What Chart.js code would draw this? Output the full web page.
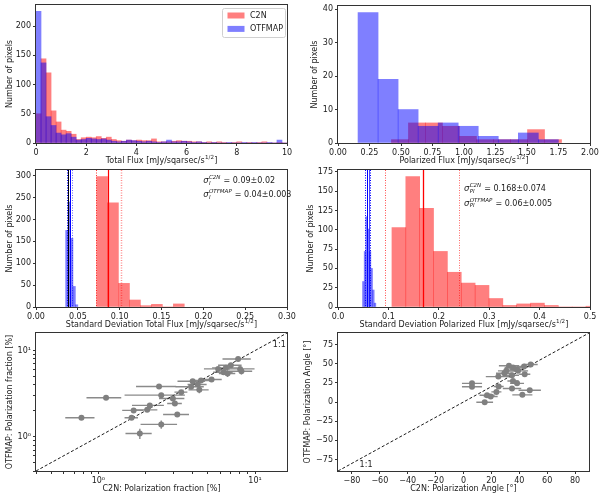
<!DOCTYPE html>
<html>
<head>
<meta charset="utf-8">
<title>C2N vs OTFMAP</title>
<script src="https://cdn.jsdelivr.net/npm/chart.js@4.4.1/dist/chart.umd.min.js"></script>
<style>
  body { margin: 0; background: #fff; }
  #wrap { position: relative; width: 604px; height: 501px; overflow: hidden; }
  #wrap canvas { position: absolute; }
</style>
</head>
<body>
<div id="wrap">
  <canvas id="c-flux" width="300" height="168" style="left:0;top:0"></canvas>
  <canvas id="c-pol" width="304" height="168" style="left:300px;top:0"></canvas>
  <canvas id="c-sd" width="300" height="165" style="left:0;top:165px"></canvas>
  <canvas id="c-psd" width="304" height="165" style="left:300px;top:165px"></canvas>
  <canvas id="c-frac" width="300" height="176" style="left:0;top:325px"></canvas>
  <canvas id="c-ang" width="304" height="176" style="left:300px;top:325px"></canvas>
</div>
<script>
// 总流量直方图 (bin 中心)
const fluxBins = [0.1, 0.3, 0.5, 0.7, 0.9, 1.1, 1.3, 1.5, 1.7, 1.9,
  2.1, 2.3, 2.5, 2.7, 2.9, 3.1, 3.3, 3.5, 3.7, 3.9,
  4.1, 4.3, 4.5, 4.7, 4.9, 5.1, 5.3, 5.5, 5.7, 5.9,
  6.1, 6.3, 6.5, 6.7, 6.9, 7.1, 7.3, 7.5, 7.7, 7.9,
  8.1, 8.3, 8.5, 8.7, 8.9, 9.1, 9.3, 9.5, 9.7, 9.9];
const c2nFluxCounts = [50, 144, 120, 55, 36, 22, 20, 15, 6, 9,
  10, 9, 11, 8, 10, 6, 4, 3, 5, 4,
  5, 4, 4, 7, 2, 2, 2, 3, 4, 3,
  3, 2, 2, 1, 2, 1, 2, 1, 0, 1,
  2, 0, 1, 0, 1, 2, 0, 0, 1, 0];
const otfFluxCounts = [225, 137, 45, 30, 17, 14, 16, 10, 5, 6,
  8, 7, 6, 7, 5, 3, 2, 3, 5, 4,
  3, 2, 3, 2, 1, 2, 5, 2, 2, 3,
  2, 1, 2, 1, 0, 1, 0, 0, 1, 0,
  0, 1, 0, 1, 0, 0, 1, 0, 5, 0];

// 偏振流量直方图
const c2nPolBins = [0.4915, 0.6265, 0.7615, 0.8965, 1.0315, 1.1665, 1.3015, 1.4365, 1.5715, 1.7065];
const c2nPolCounts = [1, 6, 6, 5, 2, 1, 1, 1, 4, 1];
const otfPolBins = [0.2385, 0.3975, 0.5565, 0.7155, 0.8745, 1.0335, 1.1925, 1.3515, 1.5105, 1.6695];
const otfPolCounts = [39, 19, 10, 5, 6, 5, 2, 1, 3, 1];

// 总流量标准差
const c2nSdBins = [0.079, 0.092, 0.1052, 0.1183, 0.1314, 0.1445, 0.1576, 0.1707];
const c2nSdCounts = [298, 238, 54, 16, 3, 6, 0, 7];
const otfSdBins = [0.0369, 0.0398, 0.0427, 0.0456, 0.0485];
const otfSdCounts = [175, 240, 157, 47, 5];
const c2nSdLines = [0.0716, 0.0864, 0.1015];      // 下限, 均值, 上限
const otfSdLines = [0.0368, 0.0405, 0.0428];
const otfSdMedian = 0.0385;

// 偏振流量标准差
const c2nPsdBins = [0.1208, 0.1483, 0.1758, 0.2033, 0.2308, 0.2583, 0.2858, 0.3133,
  0.3408, 0.3683, 0.3958, 0.4233, 0.4508, 0.4783, 0.5058];
const c2nPsdCounts = [103, 169, 128, 72, 45, 31, 28, 11, 2, 4, 5, 2, 0, 0, 1];
const otfPsdBins = [0.0503, 0.0536, 0.0569, 0.0602, 0.0635, 0.0668, 0.0701, 0.0734];
const otfPsdCounts = [33, 72, 117, 101, 72, 50, 22, 5];
const c2nPsdLines = [0.093, 0.168, 0.241];
const otfPsdLines = [0.0532, 0.0578, 0.0632];
const otfPsdMedian = 0.0606;

// 偏振度散点
const c2nFrac = [0.78, 1.12, 1.84, 2.52, 1.63, 1.68, 2.05, 2.13, 2.44, 2.52, 2.99, 3.08, 3.19, 3.38,
  3.91, 4.0, 4.31, 4.41, 4.52, 5.28, 5.82, 6.3, 6.52, 6.68, 7.01, 7.8, 8.03, 8.19];
const otfFrac = [1.66, 2.83, 1.09, 1.39, 1.66, 2.02, 2.05, 2.31, 3.83, 3.04, 2.78, 2.43, 1.81, 3.29,
  3.8, 4.41, 4.04, 3.5, 4.5, 4.61, 6.13, 5.61, 6.3, 5.42, 6.76, 8.0, 6.13, 5.76];
const c2nFracErr = [0.165, 0.28, 0.35, 0.66, 0.16, 0.26, 0.33, 0.49, 0.7, 1.05, 0.55, 0.33, 0.6, 0.32,
  0.8, 0.8, 0.6, 0.65, 0.66, 0.85, 1.1, 0.9, 1.2, 0.8, 1.2, 1.6, 1.9, 1.4];
const otfFracErr = [0.06, 0.1, 0.15, 0.15, 0.08, 0.08, 0.08, 0.1, 0.2, 0.15, 0.15, 0.12, 0.1, 0.15,
  0.2, 0.2, 0.2, 0.3, 0.2, 0.2, 0.3, 0.3, 0.3, 0.5, 0.3, 0.4, 0.3, 0.5];
const oneToOneFrac = [0.4, 16];
const logTicks = [0.4, 0.5, 0.6, 0.7, 0.8, 0.9, 1, 2, 3, 4, 5, 6, 7, 8, 9, 10];

// 偏振角散点
const c2nAng = [6.1, 6.1, 15.2, 16.9, 19.5, 23.6, 25.2, 25, 29.3, 32.6, 35.5, 34.8, 35.5, 34.8,
  38.4, 39.1, 42.2, 43.4, 43.9, 47.5, 48.2, 30.7, 37.9];
const otfAng = [24.3, 19.9, -0.4, 8.8, 7.1, 13.2, 20.3, 33.1, 37.5, 47.2, 45, 34.8, 27.3, 17.6,
  24.3, 40.6, 9.3, 46.3, 36.2, 15.4, 49, 40.6, 42.8];
const c2nAngErr = [7.2, 7.2, 6, 5.4, 5, 3.6, 3.6, 9, 6, 7.2, 6, 5, 4, 6.6, 5, 7.2, 7.2, 5, 4, 8, 5, 6, 5];
const otfAngErr = [3, 3, 2.5, 2, 2, 2.5, 2.5, 2, 2, 3, 2, 2, 2, 2, 2.5, 2, 2, 2, 3, 3, 2, 2, 2];
const oneToOneAng = [-90, 90];
const angTicksX = [-80, -60, -40, -20, 0, 20, 40, 60, 80];
const angTicksY = [-75, -50, -25, 0, 25, 50, 75];

const FONT = "'DejaVu Sans', 'Liberation Sans', sans-serif";
const TEXT = '#1a1a1a';
const AXIS = '#333';
const RED = 'rgba(255, 0, 0, 0.5)';
const BLUE = 'rgba(0, 0, 255, 0.5)';
const GREY = '#808080';

Chart.defaults.font.family = FONT;
Chart.defaults.font.size = 8;
Chart.defaults.color = TEXT;

// 固定坐标轴尺寸, 让绘图区位置可控
const fixY = w => s => { s.width = w; s.paddingTop = 0; s.paddingBottom = 0; };
const fixX = h => s => { s.height = h; s.paddingLeft = 0; s.paddingRight = 0; };
const minus = v => String(v).replace('-', '\u2212');
const setTicks = vals => s => { s.ticks = vals.map(v => ({ value: v })); };

function linAxis(min, max, step, fmt, afterFit) {
    return {
        type: 'linear', min, max, offset: false, afterFit,
        grid: { drawOnChartArea: false, drawTicks: true, tickLength: 3, color: AXIS, offset: false },
        border: { display: false },
        ticks: { stepSize: step, includeBounds: false, autoSkip: false, maxRotation: 0, padding: 2, color: TEXT, callback: fmt }
    };
}

function logAxis(afterFit) {
    return {
        type: 'logarithmic', min: 0.4, max: 16, afterFit,
        afterBuildTicks: setTicks(logTicks),
        grid: { drawOnChartArea: false, drawTicks: true, tickLength: 3, color: AXIS },
        border: { display: false },
        ticks: {
            autoSkip: false, maxRotation: 0, padding: 2, color: TEXT,
            callback: v => (v === 1 ? '10\u2070' : v === 10 ? '10\u00b9' : '')
        }
    };
}

const yTitle = (text, pad) => ({ display: true, text, color: TEXT, padding: { top: pad, bottom: 0 } });

// 外框
const framePlugin = {
    id: 'frame',
    afterDraw(chart) {
        const { ctx, chartArea: a } = chart;
        ctx.save();
        ctx.strokeStyle = AXIS;
        ctx.lineWidth = 1;
        ctx.strokeRect(Math.round(a.left) - 0.5, Math.round(a.top) - 0.5,
            Math.round(a.right - a.left) + 1, Math.round(a.bottom - a.top) + 1);
        ctx.restore();
    }
};

// x 轴标题, 带上标
function xTitle(main, sup, tail) {
    return {
        id: 'xTitle',
        afterDraw(chart) {
            const { ctx, chartArea: a } = chart;
            ctx.save();
            ctx.fillStyle = TEXT;
            ctx.textBaseline = 'middle';
            ctx.textAlign = 'left';
            ctx.font = `8px ${FONT}`;
            const w1 = ctx.measureText(main).width;
            const w3 = ctx.measureText(tail || '').width;
            ctx.font = `5.6px ${FONT}`;
            const w2 = sup ? ctx.measureText(sup).width + 0.5 : 0;
            let x = (a.left + a.right) / 2 - (w1 + w2 + w3) / 2;
            const y = a.bottom + 18;
            ctx.font = `8px ${FONT}`;
            ctx.fillText(main, x, y);
            x += w1;
            if (sup) {
                ctx.font = `5.6px ${FONT}`;
                ctx.fillText(sup, x + 0.3, y - 3.5);
                x += w2;
            }
            ctx.font = `8px ${FONT}`;
            if (tail) ctx.fillText(tail, x, y);
            ctx.restore();
        }
    };
}

// 竖线: 均值和误差范围
function vLines(lines) {
    return {
        id: 'vLines',
        afterDatasetsDraw(chart) {
            const { ctx, chartArea: a, scales: { x } } = chart;
            ctx.save();
            lines.forEach(l => {
                const px = Math.round(x.getPixelForValue(l.value)) + 0.5;
                ctx.strokeStyle = l.color;
                ctx.lineWidth = l.width || 1;
                ctx.setLineDash(l.dash || []);
                ctx.beginPath();
                ctx.moveTo(px, a.top);
                ctx.lineTo(px, a.bottom);
                ctx.stroke();
            });
            ctx.restore();
        }
    };
}

// σ 注释
function sigmaText(items) {
    return {
        id: 'sigmaText',
        afterDraw(chart) {
            const { ctx, scales: { x, y } } = chart;
            ctx.save();
            ctx.fillStyle = TEXT;
            ctx.textBaseline = 'alphabetic';
            ctx.textAlign = 'left';
            items.forEach(it => {
                let px = x.getPixelForValue(it.x);
                const py = y.getPixelForValue(it.y);
                ctx.font = `italic 8.5px ${FONT}`;
                ctx.fillText('\u03c3', px, py);
                px += ctx.measureText('\u03c3').width + 0.3;
                ctx.font = `italic 5.5px ${FONT}`;
                ctx.fillText(it.sup, px, py - 4);
                ctx.fillText(it.sub, px, py + 1.5);
                px += Math.max(ctx.measureText(it.sup).width, ctx.measureText(it.sub).width) + 0.5;
                ctx.font = `8px ${FONT}`;
                ctx.fillText(' = ' + it.text, px, py);
            });
            ctx.restore();
        }
    };
}

// 数据坐标处的文字
function textAt(items) {
    return {
        id: 'textAt',
        afterDraw(chart) {
            const { ctx, scales: { x, y } } = chart;
            ctx.save();
            ctx.fillStyle = TEXT;
            ctx.font = `8px ${FONT}`;
            ctx.textBaseline = 'middle';
            ctx.textAlign = 'left';
            items.forEach(it => ctx.fillText(it.text, x.getPixelForValue(it.x), y.getPixelForValue(it.y)));
            ctx.restore();
        }
    };
}

// 误差棒
function errorBars(xs, ys, xErr, yErr) {
    return {
        id: 'errorBars',
        beforeDatasetsDraw(chart) {
            const { ctx, scales: { x, y } } = chart;
            ctx.save();
            ctx.strokeStyle = '#8a8a8a';
            ctx.lineWidth = 1.4;
            xs.forEach((xv, i) => {
                const yv = ys[i];
                const px = x.getPixelForValue(xv);
                const py = y.getPixelForValue(yv);
                ctx.beginPath();
                ctx.moveTo(x.getPixelForValue(xv - xErr[i]), py);
                ctx.lineTo(x.getPixelForValue(xv + xErr[i]), py);
                ctx.moveTo(px, y.getPixelForValue(yv - yErr[i]));
                ctx.lineTo(px, y.getPixelForValue(yv + yErr[i]));
                ctx.stroke();
            });
            ctx.restore();
        }
    };
}

// 图例框
const legendBox = {
    id: 'legendBox',
    afterDraw(chart) {
        const { ctx, chartArea: a } = chart;
        const w = 63, h = 29;
        const x0 = a.right - 2 - w, y0 = a.top + 3;
        ctx.save();
        ctx.beginPath();
        ctx.roundRect(x0 + 0.5, y0 + 0.5, w, h, 2);
        ctx.fillStyle = 'rgba(255,255,255,0.8)';
        ctx.fill();
        ctx.strokeStyle = '#d0d0d0';
        ctx.lineWidth = 1;
        ctx.stroke();
        ctx.font = `8px ${FONT}`;
        ctx.textBaseline = 'middle';
        chart.data.datasets.forEach((d, i) => {
            const cy = y0 + 7.5 + i * 13.4;
            ctx.fillStyle = d.backgroundColor;
            ctx.fillRect(x0 + 5.5, cy - 3, 17, 6);
            ctx.fillStyle = TEXT;
            ctx.fillText(d.label, x0 + 28, cy);
        });
        ctx.restore();
    }
};

function histSet(label, bins, counts, color, axisId, order) {
    return {
        label,
        data: bins.map((b, i) => ({ x: b, y: counts[i] })),
        backgroundColor: color,
        borderWidth: 0,
        grouped: false,
        barPercentage: 1,
        categoryPercentage: 1,
        xAxisID: axisId,
        order
    };
}

function histChart(id, cfg, datasets, plugins) {
    return new Chart(document.getElementById(id), {
        type: 'bar',
        data: { datasets },
        options: {
            responsive: false,
            animation: false,
            events: [],
            layout: { padding: { top: cfg.top, right: cfg.right, left: 0, bottom: 0 } },
            plugins: { legend: { display: false }, tooltip: { enabled: false } },
            scales: {
                x: linAxis(cfg.xMin, cfg.xMax, cfg.xStep, cfg.xFmt, fixX(cfg.xH)),
                x2: { type: 'linear', axis: 'x', display: false, min: cfg.xMin, max: cfg.xMax, offset: false,
                      afterFit: fixX(0) },
                y: Object.assign(linAxis(0, cfg.yMax, cfg.yStep, v => v, fixY(cfg.yW)),
                    { title: yTitle('Number of pixels', cfg.yPad) })
            }
        },
        plugins: [framePlugin].concat(plugins)
    });
}

// 第一行
histChart('c-flux',
    { top: 5, right: 13, xH: 25, yW: 36, yPad: 5, xMin: 0, xMax: 10, xStep: 2, xFmt: v => v, yMax: 236, yStep: 50 },
    [histSet('C2N', fluxBins, c2nFluxCounts, RED, 'x', 2),
     histSet('OTFMAP', fluxBins, otfFluxCounts, BLUE, 'x2', 1)],
    [xTitle('Total Flux [mJy/sqarsec/s', '1/2', ']'), legendBox]);

histChart('c-pol',
    { top: 6, right: 14, xH: 25, yW: 38, yPad: 10.5, xMin: 0, xMax: 2, xStep: 0.25, xFmt: v => v.toFixed(2), yMax: 40.95, yStep: 10 },
    [histSet('C2N', c2nPolBins, c2nPolCounts, RED, 'x', 2),
     histSet('OTFMAP', otfPolBins, otfPolCounts, BLUE, 'x2', 1)],
    [xTitle('Polarized Flux [mJy/sqarsec/s', '1/2', ']')]);

// 第二行
histChart('c-sd',
    { top: 5, right: 13, xH: 23, yW: 36, yPad: 5, xMin: 0, xMax: 0.3, xStep: 0.05, xFmt: v => v.toFixed(2), yMax: 313, yStep: 50 },
    [histSet('C2N', c2nSdBins, c2nSdCounts, RED, 'x', 2),
     histSet('OTFMAP', otfSdBins, otfSdCounts, BLUE, 'x2', 1)],
    [xTitle('Standard Deviation Total Flux [mJy/sqarsec/s', '1/2', ']'),
     vLines([
         { value: c2nSdLines[0], color: 'rgba(255,0,0,0.8)', dash: [1, 1.5] },
         { value: c2nSdLines[1], color: 'red', width: 1.2 },
         { value: c2nSdLines[2], color: 'rgba(255,0,0,0.45)', dash: [1, 1.5], width: 1.5 },
         { value: otfSdLines[0], color: 'blue', dash: [1, 1.5] },
         { value: otfSdMedian, color: '#000', width: 1 },
         { value: otfSdLines[1], color: 'blue', width: 1 },
         { value: otfSdLines[2], color: 'rgba(0,0,255,0.6)', dash: [1, 1.5] }
     ]),
     sigmaText([
         { x: 0.2, y: 283, sub: 'I', sup: 'C2N', text: '0.09\u00b10.02' },
         { x: 0.2, y: 251, sub: 'I', sup: 'OTFMAP', text: '0.04\u00b10.003' }
     ])]);

histChart('c-psd',
    { top: 5, right: 14, xH: 23, yW: 38, yPad: 6, xMin: 0, xMax: 0.5, xStep: 0.1, xFmt: v => v.toFixed(1), yMax: 177.5, yStep: 25 },
    [histSet('C2N', c2nPsdBins, c2nPsdCounts, RED, 'x', 2),
     histSet('OTFMAP', otfPsdBins, otfPsdCounts, BLUE, 'x2', 1)],
    [xTitle('Standard Deviation Polarized Flux [mJy/sqarsec/s', '1/2', ']'),
     vLines([
         { value: c2nPsdLines[0], color: 'rgba(255,0,0,0.7)', dash: [1, 1.5] },
         { value: c2nPsdLines[1], color: 'red', width: 1.3 },
         { value: c2nPsdLines[2], color: 'rgba(255,0,0,0.6)', dash: [1, 1.5] },
         { value: otfPsdLines[0], color: 'blue', dash: [1, 1.5] },
         { value: otfPsdLines[1], color: 'blue', width: 1 },
         { value: otfPsdMedian, color: 'rgba(0,0,255,0.7)', width: 1 },
         { value: otfPsdLines[2], color: 'blue', dash: [1, 1.5] }
     ]),
     sigmaText([
         { x: 0.25, y: 150, sub: 'PI', sup: 'C2N', text: '0.168\u00b10.074' },
         { x: 0.25, y: 131, sub: 'PI', sup: 'OTFMAP', text: '0.06\u00b10.005' }
     ])]);

// 第三行: 散点
function scatterChart(id, cfg, xs, ys, ref, plugins) {
    return new Chart(document.getElementById(id), {
        type: 'scatter',
        data: {
            datasets: [
                { data: xs.map((v, i) => ({ x: v, y: ys[i] })), pointRadius: 3, backgroundColor: GREY, borderWidth: 0 },
                { data: ref.map(v => ({ x: v, y: v })), showLine: true, borderColor: '#000', borderWidth: 0.9,
                  borderDash: [3, 2], pointRadius: 0 }
            ]
        },
        options: {
            responsive: false,
            animation: false,
            events: [],
            layout: { padding: { top: cfg.top, right: cfg.right, left: 0, bottom: 0 } },
            plugins: { legend: { display: false }, tooltip: { enabled: false } },
            scales: { x: cfg.x, y: cfg.y }
        },
        plugins: [framePlugin].concat(plugins)
    });
}

scatterChart('c-frac', {
        top: 8, right: 13,
        x: logAxis(fixX(30)),
        y: Object.assign(logAxis(fixY(36)), { title: yTitle('OTFMAP: Polarization fraction [%]', 5) })
    },
    c2nFrac, otfFrac, oneToOneFrac,
    [errorBars(c2nFrac, otfFrac, c2nFracErr, otfFracErr),
     xTitle('C2N: Polarization fraction [%]'),
     textAt([{ x: 13, y: 11.7, text: '1:1' }])]);

scatterChart('c-ang', {
        top: 8, right: 15,
        x: Object.assign(linAxis(-90, 90, 20, minus, fixX(30)), { afterBuildTicks: setTicks(angTicksX) }),
        y: Object.assign(linAxis(-90, 90, 25, minus, fixY(38)), {
            afterBuildTicks: setTicks(angTicksY),
            title: yTitle('OTFMAP: Polarization Angle [\u00b0]', 3.5)
        })
    },
    c2nAng, otfAng, oneToOneAng,
    [errorBars(c2nAng, otfAng, c2nAngErr, otfAngErr),
     xTitle('C2N: Polarization Angle [\u00b0]'),
     textAt([{ x: -74.5, y: -82, text: '1:1' }])]);
</script>
</body>
</html>
